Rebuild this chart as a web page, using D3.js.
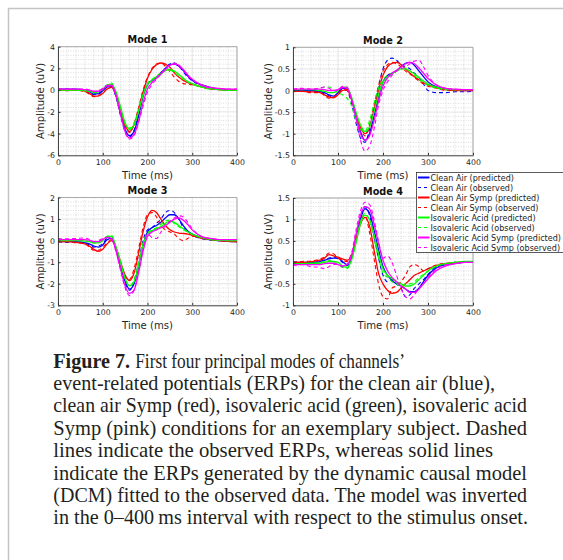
<!DOCTYPE html>
<html><head><meta charset="utf-8">
<script src="https://cdn.jsdelivr.net/npm/d3@7"></script>
<style>html,body{margin:0;padding:0;background:#fff;}svg{display:block;}</style>
</head><body>
<svg id="chart" width="563" height="560"></svg>
<script>
// ---------- DATA ----------
const time = [0,20,40,60,70,80,90,100,110,120,130,140,150,160,170,180,190,200,210,220,230,240,250,260,270,280,290,300,320,340,360,380,400];
const conditions = ["Clean Air","Clean Air Symp","Isovaleric Acid","Isovaleric Acid Symp"];
const modeTitles = ["Mode 1","Mode 2","Mode 3","Mode 4"];
const xTicks = [0,100,200,300,400];
const yTicks1 = [-6,-4,-2,0,2,4];
const yTicks2 = [-1.5,-1,-0.5,0,0.5,1];
const yTicks3 = [-3,-2,-1,0,1,2];
const yTicks4 = [-1,-0.5,0,0.5,1,1.5];

// Mode 1
const m1CleanPred = [0.1,0.1,0.1,0.0,-0.15,-0.35,-0.35,-0.05,0.3,0.3,-0.6,-2.2,-3.6,-4.2,-3.8,-2.4,-0.6,0.5,0.9,1.2,1.6,2.0,2.35,2.4,2.2,1.8,1.3,0.9,0.5,0.25,0.1,0.05,0.0];
const m1CleanObs  = [0.05,0.1,0.05,0.0,-0.2,-0.4,-0.3,0.0,0.35,0.35,-0.7,-2.4,-3.8,-4.3,-3.7,-2.2,-0.4,0.6,0.9,1.1,1.5,2.0,2.4,2.5,2.2,1.7,1.2,0.85,0.45,0.2,0.1,0.0,0.0];
const m1CSympPred = [0.0,0.0,0.0,-0.1,-0.3,-0.55,-0.55,-0.3,0.1,0.25,-0.4,-1.8,-3.2,-3.8,-3.2,-1.8,-0.2,1.1,1.9,2.35,2.5,2.4,2.1,1.6,1.2,0.9,0.7,0.55,0.3,0.15,0.05,0.0,0.0];
const m1CSympObs  = [0.0,-0.05,0.0,-0.15,-0.35,-0.6,-0.5,-0.25,0.15,0.3,-0.5,-1.9,-3.3,-3.9,-3.1,-1.6,0.0,1.2,2.0,2.4,2.5,2.2,1.7,1.2,0.8,0.6,0.55,0.5,0.3,0.1,0.05,0.0,0.0];
const m1IsoPred   = [0.0,0.0,0.0,-0.05,-0.1,-0.2,-0.15,0.1,0.45,0.55,-0.2,-1.6,-3.0,-3.6,-3.2,-2.0,-0.5,0.5,0.9,1.2,1.5,1.8,1.9,1.75,1.45,1.1,0.8,0.6,0.3,0.15,0.05,0.0,0.0];
const m1IsoObs    = [0.05,0.0,0.05,0.0,-0.1,-0.25,-0.1,0.15,0.5,0.65,-0.3,-1.7,-3.1,-3.5,-3.0,-1.9,-0.4,0.6,1.0,1.3,1.6,1.9,1.85,1.6,1.3,1.0,0.75,0.55,0.3,0.1,0.05,0.0,0.0];
const m1ISympPred = [0.1,0.1,0.1,0.05,0.0,-0.1,-0.1,0.1,0.4,0.45,-0.5,-2.2,-3.8,-4.4,-4.1,-2.9,-1.2,0.1,0.7,1.1,1.5,1.9,2.3,2.4,2.3,1.9,1.4,1.0,0.5,0.25,0.15,0.1,0.1];
const m1ISympObs  = [0.15,0.1,0.1,0.1,0.0,-0.15,-0.05,0.15,0.45,0.4,-0.6,-2.3,-3.9,-4.5,-4.2,-3.0,-1.5,-0.2,0.5,1.0,1.5,2.0,2.3,2.5,2.2,1.8,1.3,0.95,0.45,0.2,0.15,0.1,0.1];

// Mode 2
const m2CleanPred = [0.0,0.0,0.0,-0.02,-0.05,-0.1,-0.13,-0.05,0.05,0.05,-0.2,-0.6,-0.95,-1.15,-1.0,-0.6,-0.15,0.2,0.35,0.4,0.45,0.55,0.63,0.65,0.58,0.45,0.32,0.2,0.08,0.03,0.01,0.0,0.0];
const m2CleanObs  = [-0.02,0.0,-0.02,-0.03,-0.08,-0.12,-0.15,-0.05,0.03,0.0,-0.3,-0.75,-1.1,-1.2,-0.9,-0.4,0.1,0.5,0.7,0.75,0.7,0.6,0.55,0.5,0.4,0.3,0.15,0.0,-0.05,-0.05,-0.03,-0.03,-0.02];
const m2CSympPred = [-0.02,-0.02,-0.03,-0.05,-0.1,-0.15,-0.17,-0.1,0.0,0.02,-0.2,-0.55,-0.85,-1.0,-0.85,-0.45,0.0,0.35,0.55,0.63,0.65,0.6,0.5,0.4,0.32,0.25,0.18,0.13,0.06,0.02,0.0,0.0,0.0];
const m2CSympObs  = [-0.03,-0.02,-0.05,-0.05,-0.12,-0.18,-0.15,-0.08,0.02,0.0,-0.25,-0.6,-0.9,-1.05,-0.8,-0.35,0.1,0.45,0.6,0.65,0.62,0.55,0.45,0.38,0.3,0.22,0.15,0.1,0.05,0.0,0.0,0.0,0.0];
const m2IsoPred   = [0.02,0.02,0.02,0.0,-0.02,-0.05,-0.05,0.0,0.08,0.08,-0.15,-0.5,-0.8,-0.95,-0.85,-0.5,-0.1,0.2,0.3,0.38,0.45,0.5,0.5,0.45,0.38,0.3,0.22,0.15,0.07,0.03,0.02,0.02,0.02];
const m2IsoObs    = [0.02,0.03,0.03,0.05,0.08,0.08,0.02,-0.05,-0.1,-0.18,-0.35,-0.7,-0.9,-0.95,-0.7,-0.3,0.05,0.25,0.35,0.4,0.45,0.5,0.52,0.45,0.35,0.25,0.18,0.12,0.05,0.02,0.02,0.02,0.02];
const m2ISympPred = [0.03,0.03,0.03,0.03,0.02,0.0,0.0,0.02,0.07,0.05,-0.2,-0.6,-1.0,-1.15,-1.05,-0.7,-0.25,0.1,0.3,0.4,0.47,0.55,0.62,0.65,0.62,0.52,0.4,0.28,0.12,0.05,0.03,0.02,0.02];
const m2ISympObs  = [0.03,0.05,0.03,0.06,0.08,0.05,0.0,0.0,0.1,0.08,-0.2,-0.65,-1.15,-1.4,-1.3,-0.9,-0.35,0.0,0.2,0.35,0.45,0.5,0.55,0.62,0.68,0.7,0.55,0.35,0.12,0.05,0.03,0.02,0.02];

// Mode 3
const m3CleanPred = [-0.05,-0.05,-0.05,-0.1,-0.15,-0.25,-0.3,-0.2,0.05,0.1,-0.4,-1.2,-1.9,-2.25,-2.0,-1.2,-0.2,0.4,0.6,0.7,0.85,1.05,1.2,1.2,1.0,0.7,0.45,0.3,0.15,0.05,0.0,-0.03,-0.05];
const m3CleanObs  = [-0.05,-0.08,-0.05,-0.12,-0.2,-0.3,-0.25,-0.15,0.1,0.1,-0.5,-1.3,-2.0,-2.3,-1.9,-1.0,0.0,0.5,0.6,0.8,1.0,1.3,1.4,1.3,1.0,0.6,0.4,0.25,0.1,0.03,0.0,-0.03,-0.05];
const m3CSympPred = [-0.05,-0.05,-0.08,-0.15,-0.25,-0.4,-0.5,-0.4,-0.15,0.0,-0.35,-1.0,-1.6,-1.85,-1.5,-0.6,0.4,1.1,1.4,1.3,1.0,0.7,0.5,0.4,0.35,0.33,0.3,0.25,0.12,0.05,0.0,-0.03,-0.05];
const m3CSympObs  = [-0.05,-0.05,-0.1,-0.15,-0.3,-0.45,-0.45,-0.3,-0.1,0.05,-0.4,-1.1,-1.7,-1.8,-1.3,-0.4,0.6,1.2,1.3,1.1,0.7,0.5,0.4,0.3,0.1,0.0,0.1,0.2,0.12,0.05,0.0,-0.03,-0.05];
const m3IsoPred   = [0.0,0.0,0.0,-0.02,-0.05,-0.1,-0.1,0.0,0.2,0.2,-0.3,-1.0,-1.75,-2.1,-1.9,-1.15,-0.2,0.3,0.45,0.55,0.65,0.8,0.9,0.85,0.7,0.55,0.4,0.3,0.15,0.06,0.02,0.0,0.0];
const m3IsoObs    = [0.05,0.0,0.02,0.0,-0.05,-0.12,-0.05,0.05,0.2,0.25,-0.35,-1.1,-1.8,-2.1,-1.8,-1.0,-0.1,0.35,0.5,0.6,0.75,0.9,0.95,0.8,0.65,0.5,0.4,0.3,0.15,0.05,0.02,0.0,0.0];
const m3ISympPred = [0.05,0.05,0.05,0.05,0.02,-0.05,-0.05,0.05,0.15,0.1,-0.45,-1.3,-2.1,-2.45,-2.3,-1.5,-0.5,0.2,0.4,0.5,0.6,0.7,0.85,1.0,1.05,0.95,0.75,0.5,0.2,0.1,0.05,0.05,0.05];
const m3ISympObs  = [0.1,0.08,0.1,0.12,0.05,-0.05,0.0,0.1,0.15,0.05,-0.55,-1.4,-2.2,-2.55,-2.3,-1.4,-0.4,0.3,0.15,0.1,0.4,0.7,0.9,1.05,1.15,1.1,0.85,0.55,0.2,0.1,0.05,0.05,0.05];

// Mode 4
const m4CleanPred = [0.0,0.0,0.0,0.02,0.05,0.08,0.1,0.1,0.02,-0.05,0.1,0.5,1.0,1.25,1.15,0.75,0.3,-0.1,-0.3,-0.42,-0.5,-0.55,-0.62,-0.68,-0.68,-0.6,-0.45,-0.3,-0.12,-0.05,-0.02,0.0,0.0];
const m4CleanObs  = [0.0,0.02,0.0,0.03,0.05,0.1,0.12,0.08,0.0,-0.08,0.1,0.55,1.05,1.3,1.1,0.6,0.1,-0.3,-0.45,-0.4,-0.5,-0.6,-0.8,-0.75,-0.6,-0.5,-0.4,-0.28,-0.1,-0.05,0.0,0.0,0.0];
const m4CSympPred = [0.0,0.0,0.02,0.05,0.1,0.18,0.15,0.12,0.08,0.05,0.15,0.5,0.9,1.05,0.85,0.3,-0.25,-0.5,-0.65,-0.72,-0.7,-0.6,-0.5,-0.4,-0.3,-0.25,-0.2,-0.15,-0.07,-0.03,-0.01,0.0,0.0];
const m4CSympObs  = [0.0,0.02,0.03,0.08,0.12,0.22,0.2,0.1,0.05,0.02,0.2,0.55,0.95,1.1,0.7,0.1,-0.5,-0.8,-0.85,-0.6,-0.55,-0.45,-0.3,-0.1,-0.05,-0.1,-0.2,-0.15,-0.05,-0.02,0.0,0.0,0.0];
const m4IsoPred   = [-0.03,-0.03,-0.02,-0.02,0.0,0.02,0.02,0.0,-0.08,-0.12,0.05,0.45,0.9,1.1,1.0,0.65,0.2,-0.15,-0.3,-0.38,-0.45,-0.5,-0.55,-0.55,-0.5,-0.4,-0.3,-0.2,-0.08,-0.03,0.0,0.02,0.02];
const m4IsoObs    = [-0.02,-0.05,-0.03,0.0,0.02,0.05,0.0,-0.05,-0.12,-0.15,0.05,0.5,0.95,1.15,0.95,0.55,0.1,-0.25,-0.35,-0.45,-0.5,-0.55,-0.5,-0.5,-0.45,-0.35,-0.28,-0.2,-0.08,-0.03,0.0,0.02,0.02];
const m4ISympPred = [-0.05,-0.05,-0.05,-0.05,-0.03,-0.02,-0.02,-0.05,-0.08,-0.05,0.15,0.65,1.1,1.3,1.25,0.9,0.45,0.05,-0.2,-0.35,-0.45,-0.55,-0.62,-0.7,-0.7,-0.62,-0.5,-0.38,-0.18,-0.08,-0.03,0.0,0.0];
const m4ISympObs  = [-0.08,-0.05,-0.1,-0.12,-0.15,-0.1,-0.05,-0.05,-0.1,-0.05,0.2,0.75,1.2,1.4,1.35,1.0,0.5,0.1,0.15,0.0,-0.3,-0.6,-0.8,-0.85,-0.75,-0.6,-0.5,-0.35,-0.15,-0.05,-0.03,0.0,0.0];

const captionBold = "Figure 7.";
const captionLines = [
  "First four principal modes of channels\u2019",
  "event-related potentials (ERPs) for the clean air (blue),",
  "clean air Symp (red), isovaleric acid (green), isovaleric acid",
  "Symp (pink) conditions for an exemplary subject. Dashed",
  "lines indicate the observed ERPs, whereas solid lines",
  "indicate the ERPs generated by the dynamic causal model",
  "(DCM) fitted to the observed data. The model was inverted",
  "in the 0\u2013400\u2009ms interval with respect to the stimulus onset."
];

// ---------- STYLE / LAYOUT ----------
const colors = ["#0000ff","#ff0000","#00ff00","#ff00ff"];
const panels = [
  {title:modeTitles[0], x0:58,  x1:237, y0:46.7, y1:155.3, yTicks:yTicks1, step:2,   lab:14,   series:[[m1CleanPred,m1CleanObs],[m1CSympPred,m1CSympObs],[m1IsoPred,m1IsoObs],[m1ISympPred,m1ISympObs]]},
  {title:modeTitles[1], x0:293, x1:473, y0:47.3, y1:155.3, yTicks:yTicks2, step:0.5, lab:21.5, series:[[m2CleanPred,m2CleanObs],[m2CSympPred,m2CSympObs],[m2IsoPred,m2IsoObs],[m2ISympPred,m2ISympObs]]},
  {title:modeTitles[2], x0:58,  x1:237, y0:197.5, y1:305.3, yTicks:yTicks3, step:1,  lab:14,   series:[[m3CleanPred,m3CleanObs],[m3CSympPred,m3CSympObs],[m3IsoPred,m3IsoObs],[m3ISympPred,m3ISympObs]]},
  {title:modeTitles[3], x0:293, x1:473, y0:198,  y1:305.3, yTicks:yTicks4, step:0.5, lab:21.5, series:[[m4CleanPred,m4CleanObs],[m4CSympPred,m4CSympObs],[m4IsoPred,m4IsoObs],[m4ISympPred,m4ISympObs]]}
];
const font = "DejaVu Sans, sans-serif";
const serif = "Liberation Serif, DejaVu Serif, serif";
const svg = d3.select("#chart");

function measure(txt, fam, size, weight) {
  const t = svg.append("text").attr("font-family",fam).attr("font-size",size).attr("font-weight",weight||"normal").text(txt);
  const w = t.node().getComputedTextLength(); t.remove(); return w;
}
function fit(txt, fam, base, target, weight) {
  const w = measure(txt, fam, base, weight);
  let s = base * target / w;
  return Math.max(base*0.85, Math.min(base*1.2, s));
}
const labelSize = fit("Time (ms)", font, 10, 51);
const titleSize = fit("Mode 1", font, 10, 40, "bold");
const tickSize  = fit("-0.5", font, 8, 15.2);
const legSize   = fit("Clean Air (predicted)", font, 8, 83.5);

svg.append("rect").attr("width",563).attr("height",560).attr("fill","#fff");
svg.append("path").attr("d","M8.5,560V8.5H563").attr("fill","none").attr("stroke","#c4c4c4").attr("stroke-width",1.5);

panels.forEach(p => {
  const ext = d3.extent(p.yTicks);
  const x = d3.scaleLinear().domain([0,400]).range([p.x0,p.x1]);
  const y = d3.scaleLinear().domain(ext).range([p.y1,p.y0]);
  const g = svg.append("g");
  const minorX = d3.range(0,401,20).filter(v => v%100!==0);
  const ms = p.step/5;
  const minorY = d3.range(0, Math.round((ext[1]-ext[0])/ms)+1).map(i => ext[0]+i*ms).filter(v => Math.abs(v/p.step - Math.round(v/p.step))>1e-6);
  g.selectAll(".mx").data(minorX).join("line")
    .attr("x1",d=>x(d)).attr("x2",d=>x(d)).attr("y1",p.y0).attr("y2",p.y1)
    .attr("stroke","#c4c4c4").attr("stroke-width",0.6).attr("stroke-dasharray","1,1.5");
  g.selectAll(".my").data(minorY).join("line")
    .attr("y1",d=>y(d)).attr("y2",d=>y(d)).attr("x1",p.x0).attr("x2",p.x1)
    .attr("stroke","#c4c4c4").attr("stroke-width",0.6).attr("stroke-dasharray","1,1.5");
  g.selectAll(".Mx").data(xTicks).join("line")
    .attr("x1",d=>x(d)).attr("x2",d=>x(d)).attr("y1",p.y0).attr("y2",p.y1)
    .attr("stroke","#d8d8d8").attr("stroke-width",0.7);
  g.selectAll(".My").data(p.yTicks).join("line")
    .attr("y1",d=>y(d)).attr("y2",d=>y(d)).attr("x1",p.x0).attr("x2",p.x1)
    .attr("stroke","#d8d8d8").attr("stroke-width",0.7);
  g.append("path").attr("d",`M${p.x0},${p.y0}H${p.x1}V${p.y1}`).attr("fill","none").attr("stroke","#9a9a9a").attr("stroke-width",0.8);
  const line = d3.line().x((d,i)=>x(time[i])).y(d=>y(d)).curve(d3.curveMonotoneX);
  p.series.forEach((pair,ci) => {
    g.append("path").attr("d",line(pair[0])).attr("fill","none").attr("stroke",colors[ci]).attr("stroke-width",1.3);
    g.append("path").attr("d",line(pair[1])).attr("fill","none").attr("stroke",colors[ci]).attr("stroke-width",1.1).attr("stroke-dasharray","4,3");
  });
  const ax = g.append("g").attr("transform",`translate(0,${p.y1})`)
    .call(d3.axisBottom(x).tickValues(xTicks).tickSizeInner(-2.5).tickSizeOuter(0).tickPadding(4).tickFormat(d3.format("d")));
  const ay = g.append("g").attr("transform",`translate(${p.x0},0)`)
    .call(d3.axisLeft(y).tickValues(p.yTicks).tickSizeInner(-2.5).tickSizeOuter(0).tickPadding(3).tickFormat(d=>String(d)));
  [ax,ay].forEach(a => {
    a.select(".domain").attr("stroke","#333").attr("stroke-width",0.9);
    a.selectAll(".tick line").attr("stroke","#333");
    a.selectAll("text").attr("font-family",font).attr("font-size",tickSize).attr("fill","#262626");
  });
  svg.append("text").attr("x",(p.x0+p.x1)/2).attr("y",p.y0-3.5).attr("text-anchor","middle")
    .attr("font-family",font).attr("font-weight","bold").attr("font-size",titleSize).attr("fill","#111").text(p.title);
  svg.append("text").attr("x",(p.x0+p.x1)/2).attr("y",p.y1+23.5).attr("text-anchor","middle")
    .attr("font-family",font).attr("font-size",labelSize).attr("fill","#262626").text("Time (ms)");
  svg.append("text").attr("transform",`translate(${p.x0-p.lab},${(p.y0+p.y1)/2}) rotate(-90)`).attr("text-anchor","middle")
    .attr("font-family",font).attr("font-size",labelSize).attr("fill","#262626").text("Amplitude (uV)");
});

// legend
const leg = svg.append("g");
leg.append("rect").attr("x",416.5).attr("y",172.5).attr("width",200).attr("height",80)
  .attr("fill","#fff").attr("stroke","#333").attr("stroke-width",0.8);
const legItems = [];
conditions.forEach((c,ci) => {
  legItems.push({label:c+" (predicted)", color:colors[ci], dash:null, w:2});
  legItems.push({label:c+" (observed)", color:colors[ci], dash:"3,3", w:1.2});
});
legItems.forEach((it,i) => {
  const yy = 177.5 + i*10;
  leg.append("line").attr("x1",418).attr("x2",429.5).attr("y1",yy).attr("y2",yy)
    .attr("stroke",it.color).attr("stroke-width",it.w).attr("stroke-dasharray",it.dash);
  leg.append("text").attr("x",430.5).attr("y",yy+3).attr("font-family",font).attr("font-size",legSize)
    .attr("fill","#222").text(it.label);
});

// caption
const capX = 53.3;
const capRight = [405,495,527,527,493,527,527,528];
const base = 20;
const boldW20 = measure(captionBold, serif, base, "bold");
const gapW20 = measure("\u00a0", serif, base);
const ratios = captionLines.map((ln,i) => {
  const w = (i===0 ? boldW20 + gapW20 : 0) + measure(ln, serif, base);
  return (capRight[i]-capX) / w;
});
const capSize = base * d3.median(ratios);
const cap = svg.append("g");
captionLines.forEach((ln,i) => {
  const yy = 367.7 + i*22.37;
  let startX = capX;
  if (i===0) {
    cap.append("text").attr("x",capX).attr("y",yy).attr("font-family",serif).attr("font-size",capSize)
      .attr("font-weight","bold").attr("fill","#231f20").text(captionBold);
    startX = capX + (boldW20 + gapW20) * capSize / base;
  }
  cap.append("text").attr("x",startX).attr("y",yy)
    .attr("font-family",serif).attr("font-size",capSize).attr("fill","#231f20")
    .attr("textLength",capRight[i]-startX).attr("lengthAdjust","spacingAndGlyphs").text(ln);
});
</script>
</body></html>
